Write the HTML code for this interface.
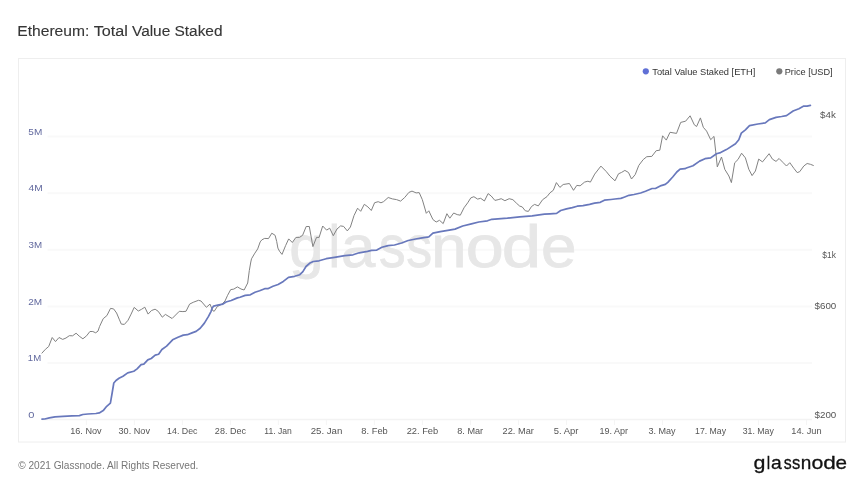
<!DOCTYPE html><html><head><meta charset="utf-8"><title>Ethereum: Total Value Staked</title><style>html,body{margin:0;padding:0;background:#fff;width:864px;height:485px;overflow:hidden}svg{display:block;position:absolute;left:0;top:0;will-change:transform}text{font-family:"Liberation Sans", Arial, sans-serif}</style></head><body><svg width="864" height="485" viewBox="0 0 864 485"><text y="36" font-size="14" fill="#363636" stroke="#363636" stroke-width="0.12"><tspan x="17.31" textLength="72.01" lengthAdjust="spacingAndGlyphs">Ethereum:</tspan> <tspan x="93.71" textLength="34.14" lengthAdjust="spacingAndGlyphs">Total</tspan> <tspan x="132.0" textLength="38.27" lengthAdjust="spacingAndGlyphs">Value</tspan> <tspan x="174.47" textLength="48.05" lengthAdjust="spacingAndGlyphs">Staked</tspan></text><rect x="18.5" y="58.5" width="827" height="383.5" fill="#fff" stroke="#eeeeee" stroke-width="1"/><line x1="47.5" y1="136.6" x2="812" y2="136.6" stroke="#f9f9f9" stroke-width="2"/><line x1="47.5" y1="193.2" x2="812" y2="193.2" stroke="#f9f9f9" stroke-width="2"/><line x1="47.5" y1="249.8" x2="812" y2="249.8" stroke="#f9f9f9" stroke-width="2"/><line x1="47.5" y1="306.6" x2="812" y2="306.6" stroke="#f9f9f9" stroke-width="2"/><line x1="47.5" y1="363.0" x2="812" y2="363.0" stroke="#f9f9f9" stroke-width="2"/><line x1="42" y1="419.6" x2="812" y2="419.6" stroke="#f3f3f3" stroke-width="1.5"/><line x1="86.4" y1="420" x2="86.4" y2="425" stroke="#f5f5f5" stroke-width="1"/><line x1="134.4" y1="420" x2="134.4" y2="425" stroke="#f5f5f5" stroke-width="1"/><line x1="182.4" y1="420" x2="182.4" y2="425" stroke="#f5f5f5" stroke-width="1"/><line x1="230.4" y1="420" x2="230.4" y2="425" stroke="#f5f5f5" stroke-width="1"/><line x1="278.4" y1="420" x2="278.4" y2="425" stroke="#f5f5f5" stroke-width="1"/><line x1="326.4" y1="420" x2="326.4" y2="425" stroke="#f5f5f5" stroke-width="1"/><line x1="374.4" y1="420" x2="374.4" y2="425" stroke="#f5f5f5" stroke-width="1"/><line x1="422.4" y1="420" x2="422.4" y2="425" stroke="#f5f5f5" stroke-width="1"/><line x1="470.5" y1="420" x2="470.5" y2="425" stroke="#f5f5f5" stroke-width="1"/><line x1="518.5" y1="420" x2="518.5" y2="425" stroke="#f5f5f5" stroke-width="1"/><line x1="566.5" y1="420" x2="566.5" y2="425" stroke="#f5f5f5" stroke-width="1"/><line x1="614.5" y1="420" x2="614.5" y2="425" stroke="#f5f5f5" stroke-width="1"/><line x1="662.5" y1="420" x2="662.5" y2="425" stroke="#f5f5f5" stroke-width="1"/><line x1="710.5" y1="420" x2="710.5" y2="425" stroke="#f5f5f5" stroke-width="1"/><line x1="758.5" y1="420" x2="758.5" y2="425" stroke="#f5f5f5" stroke-width="1"/><line x1="806.5" y1="420" x2="806.5" y2="425" stroke="#f5f5f5" stroke-width="1"/><text y="266.8" font-size="60" fill="#e7e7e7" stroke="#e7e7e7" stroke-width="0.8"><tspan x="289.23" textLength="34.36" lengthAdjust="spacingAndGlyphs">g</tspan><tspan x="328.5" textLength="11.68" lengthAdjust="spacingAndGlyphs">l</tspan><tspan x="341.03" textLength="34.29" lengthAdjust="spacingAndGlyphs">a</tspan><tspan x="379.05" textLength="26.54" lengthAdjust="spacingAndGlyphs">s</tspan><tspan x="406.29" textLength="25.85" lengthAdjust="spacingAndGlyphs">s</tspan><tspan x="431.36" textLength="35.33" lengthAdjust="spacingAndGlyphs">n</tspan><tspan x="465.75" textLength="38.04" lengthAdjust="spacingAndGlyphs">o</tspan><tspan x="501.75" textLength="39.43" lengthAdjust="spacingAndGlyphs">d</tspan><tspan x="540.94" textLength="35.56" lengthAdjust="spacingAndGlyphs">e</tspan></text><path d="M41.7 353.4 L45.4 349.3 L48.7 346.5 L52.2 337.5 L55.5 341.6 L59 337.5 L62.7 339.4 L66 338 L69.3 335.7 L72.6 335.8 L76.1 333.2 L79.2 336.1 L82.9 338.8 L86.6 335.8 L89.9 331.5 L92.8 331.5 L95.7 332.8 L98 331.1 L99.6 326.4 L103.2 318.7 L106.9 315.6 L110.5 308.4 L113.6 308.9 L116.6 313 L119.2 319.2 L121.3 324.1 L124.4 324.4 L128 320.3 L131.1 314.1 L134.2 307.4 L138.3 311 L141.4 309.4 L144.8 307.2 L148.1 314.1 L151.5 310.5 L155.1 309.2 L158.2 311.3 L162.3 317.2 L165.4 314.4 L172.1 318.5 L179.3 311.3 L182.9 311.6 L186 311.3 L189.6 304.1 L193.2 302.3 L198.5 300.3 L201 301 L206.4 307.3 L210 304.1 L212.6 310.5 L214.2 311.3 L217.3 306.6 L221.9 304.1 L225 301 L227.6 295.3 L230.7 289.6 L233.8 289.1 L237.4 286.9 L241 289 L244.1 290 L247.7 283 L249.3 270.6 L250.8 262 L251.5 258.8 L254.4 253.9 L257.7 248.9 L260.2 241.9 L261.9 239.8 L264.7 238.4 L268.5 238.6 L271.8 233.2 L275.1 235.3 L276.7 241.5 L277.9 248.1 L279.6 251.4 L282 254.4 L285.6 245.6 L288.7 238.9 L292.3 242.5 L295.9 237.4 L299.5 237.4 L302.6 235.3 L306.2 226.5 L309.3 226.5 L312.9 246.6 L316.5 237.4 L319.1 237.4 L322.7 226 L326.6 230.1 L329.7 228.2 L333.3 235.7 L337 229 L340.6 225.9 L343.6 226.4 L347.3 230.9 L350.4 227 L354 215.6 L357.6 208.2 L360.7 211.3 L364.3 204.3 L367.9 206.9 L371.3 210.5 L374.6 202.7 L378.2 201.7 L381 202.8 L383.6 201.6 L388.2 197.5 L392.4 198.9 L396.5 199.6 L400.6 201.1 L404.7 197.5 L408.9 192.4 L412 191.1 L416.1 192.9 L419.2 192.6 L422.3 199.6 L426.3 213.3 L428.8 210.8 L432.9 219.5 L436.2 222 L439.5 220.3 L443.2 223.6 L446.9 213.7 L449.8 218.2 L453.7 213 L457.2 214.6 L460.3 215.2 L464 207.8 L467.7 202.8 L470.8 197.9 L473.9 196.7 L477.6 199.1 L480.7 198.3 L484.4 201 L488.1 193.6 L491.2 196 L494.9 200.4 L498.1 199.7 L501.2 198.7 L504.9 200.7 L509.2 198.7 L512.9 199.7 L516.7 203.4 L519.7 206.1 L522.2 206.9 L525.3 210.8 L528.4 211.4 L531.5 206.5 L534.6 204.4 L538.3 205.9 L542.6 199.7 L547 196.6 L550 192.8 L553.3 190.3 L556.4 182.6 L559.9 187.4 L563.2 184.5 L569.4 183.5 L573.5 190.3 L576.8 185.4 L580.1 185.8 L584.6 182.1 L587.9 181.2 L590.4 182.1 L594.7 174.1 L600.9 166.1 L606.4 171.7 L610 176.2 L615 180.8 L618.5 173.8 L621.6 172.4 L624.9 170.4 L628.5 172.5 L631.5 179 L635.2 174.6 L638.8 165.4 L643.2 159.6 L646.8 156.7 L651.8 156.4 L656.2 150.7 L659.8 150.2 L662.6 135.8 L666.3 140.1 L670 132.3 L676.5 133.4 L680.7 122.4 L685.6 121.2 L690.1 115.8 L694.3 124.8 L696.6 126.5 L700.4 117.9 L703.3 127.3 L706.6 131.1 L710.7 139.7 L714 136.4 L715.7 151.3 L717.3 166.9 L721.5 157 L724.8 169.4 L728.9 176 L731.4 182.6 L734.7 162.8 L738 159.5 L741.6 153.2 L745.4 157.9 L748.8 169.3 L752.1 175.6 L755.4 171 L758.7 159.1 L762.5 161.9 L769.1 153.7 L772.4 159.1 L776 161.4 L779.1 158.5 L783.2 162.7 L786.5 166 L789.8 162.7 L793.9 168.4 L797.2 172.6 L799.7 171.7 L803.8 166 L807.1 163.5 L810.4 164.3 L813.7 165.6" fill="none" stroke="#828282" stroke-width="1" stroke-linejoin="round"/><path d="M42 419.2 L44.8 419 L49.3 417.9 L55 416.8 L63 416.3 L72 415.8 L79.4 415.6 L82.8 414.5 L87.9 414 L95.9 413.5 L99.3 412.9 L103.2 410.6 L106.7 406.3 L110.4 403.1 L111.8 395 L113.8 383 L116 380.5 L119 378.3 L123 376.3 L127.7 372.9 L133.8 371.2 L137.1 368.9 L141.1 364.6 L143.8 364.2 L147.8 359.9 L151.2 358.5 L155.2 355.1 L158.6 354.2 L161.9 349.5 L166.6 346.1 L172.6 339.8 L178 337.2 L183.3 335.1 L187.4 334.7 L192 332.9 L196.1 331.4 L200.2 328.3 L204.4 323.1 L208.5 316.4 L211.1 311.3 L212.1 308.2 L213.6 306.1 L217.8 305.1 L222.9 304.1 L226 302 L231.2 300.5 L237.4 297.9 L240 297.2 L245.2 295.4 L250.3 294.8 L255 292.3 L259.6 290.7 L264.7 288.7 L267.8 288.7 L273 286.3 L278.1 284.5 L283.3 281.4 L288.5 277.3 L294.6 276.3 L299.8 274.7 L302.9 271.6 L306 266.5 L310.1 262.9 L313.2 261.5 L319 260.8 L326.2 258.7 L334.5 257.3 L344.8 255.6 L353 254.8 L359.2 252.8 L367.5 251.4 L371.6 250.4 L376.8 250.1 L381.9 247.3 L388.1 245.6 L394.5 245 L401.6 243 L408.2 240.5 L415.6 239 L422.2 237.8 L428.8 236.8 L432.9 233.2 L440.3 231.6 L447.8 230.4 L455 229.1 L462.7 226 L471.4 223.9 L478.8 222 L487.5 220.8 L491.8 219.3 L498 218.9 L507.4 218.2 L519.7 216.8 L532.1 215.8 L544.5 214.2 L550 213.8 L556.6 213.4 L560.7 210.5 L566.5 208.9 L572.3 207.6 L577.2 206.2 L583 205.6 L589.6 204.3 L594.5 203.1 L600.3 202.3 L604.4 200.2 L611 199.5 L615 199 L620.8 198.4 L624.1 197.2 L629 195.3 L634 194.5 L640.6 193 L645.5 191.2 L652.1 188.5 L655.4 188.5 L661.2 185.6 L665.3 184.4 L667.8 182.3 L672.7 177 L676.8 172 L680.1 169.1 L685 168.7 L686.4 168 L693 165.7 L699.6 161.1 L705 158.7 L710.7 157.9 L716.5 153.7 L720.6 152.6 L726.4 149.6 L735.5 143.8 L738.8 139.7 L741.3 133.1 L745.4 129.8 L749.5 125.7 L757.9 124 L765.3 122.9 L769.4 119.6 L776 117.4 L781.6 116.5 L786.5 115.6 L793.1 111 L798.9 108.7 L803.8 106.1 L807.1 106.1 L810.4 105.4" fill="none" stroke="#6878bc" stroke-width="1.7" stroke-linejoin="round" stroke-linecap="round"/><text x="28.33" y="135.0" font-size="8.8" fill="#636a9f" textLength="13.91" lengthAdjust="spacingAndGlyphs">5M</text><text x="28.51" y="191.4" font-size="8.8" fill="#636a9f" textLength="14.15" lengthAdjust="spacingAndGlyphs">4M</text><text x="28.52" y="248.1" font-size="8.8" fill="#636a9f" textLength="13.59" lengthAdjust="spacingAndGlyphs">3M</text><text x="28.23" y="305.0" font-size="8.8" fill="#636a9f" textLength="13.91" lengthAdjust="spacingAndGlyphs">2M</text><text x="27.88" y="361.2" font-size="8.8" fill="#636a9f" textLength="13.31" lengthAdjust="spacingAndGlyphs">1M</text><text x="28.28" y="418.0" font-size="8.8" fill="#636a9f" textLength="6.18" lengthAdjust="spacingAndGlyphs">0</text><text x="820.13" y="118.2" font-size="9" fill="#555" textLength="15.78" lengthAdjust="spacingAndGlyphs">$4k</text><text x="822.37" y="257.6" font-size="9" fill="#555" textLength="13.54" lengthAdjust="spacingAndGlyphs">$1k</text><text x="814.53" y="308.6" font-size="9" fill="#555" textLength="21.76" lengthAdjust="spacingAndGlyphs">$600</text><text x="814.53" y="417.9" font-size="9" fill="#555" textLength="21.76" lengthAdjust="spacingAndGlyphs">$200</text><text x="70.22" y="433.8" font-size="8.8" fill="#555" textLength="31.44" lengthAdjust="spacingAndGlyphs">16. Nov</text><text x="118.54" y="433.8" font-size="8.8" fill="#555" textLength="31.42" lengthAdjust="spacingAndGlyphs">30. Nov</text><text x="167.14" y="433.8" font-size="8.8" fill="#555" textLength="30.36" lengthAdjust="spacingAndGlyphs">14. Dec</text><text x="214.89" y="433.8" font-size="8.8" fill="#555" textLength="31.03" lengthAdjust="spacingAndGlyphs">28. Dec</text><text x="264.37" y="433.8" font-size="8.8" fill="#555" textLength="27.48" lengthAdjust="spacingAndGlyphs">11. Jan</text><text x="310.7" y="433.8" font-size="8.8" fill="#555" textLength="31.68" lengthAdjust="spacingAndGlyphs">25. Jan</text><text x="361.37" y="433.8" font-size="8.8" fill="#555" textLength="26.46" lengthAdjust="spacingAndGlyphs">8. Feb</text><text x="406.67" y="433.8" font-size="8.8" fill="#555" textLength="31.58" lengthAdjust="spacingAndGlyphs">22. Feb</text><text x="457.28" y="433.8" font-size="8.8" fill="#555" textLength="25.87" lengthAdjust="spacingAndGlyphs">8. Mar</text><text x="502.57" y="433.8" font-size="8.8" fill="#555" textLength="31.35" lengthAdjust="spacingAndGlyphs">22. Mar</text><text x="553.66" y="433.8" font-size="8.8" fill="#555" textLength="24.66" lengthAdjust="spacingAndGlyphs">5. Apr</text><text x="599.43" y="433.8" font-size="8.8" fill="#555" textLength="28.61" lengthAdjust="spacingAndGlyphs">19. Apr</text><text x="648.44" y="433.8" font-size="8.8" fill="#555" textLength="27.17" lengthAdjust="spacingAndGlyphs">3. May</text><text x="695.05" y="433.8" font-size="8.8" fill="#555" textLength="30.97" lengthAdjust="spacingAndGlyphs">17. May</text><text x="742.65" y="433.8" font-size="8.8" fill="#555" textLength="31.18" lengthAdjust="spacingAndGlyphs">31. May</text><text x="791.31" y="433.8" font-size="8.8" fill="#555" textLength="30.23" lengthAdjust="spacingAndGlyphs">14. Jun</text><circle cx="645.8" cy="71.3" r="3.1" fill="#6070d6"/><text x="652.24" y="74.6" font-size="9" fill="#333" textLength="103.06" lengthAdjust="spacingAndGlyphs">Total Value Staked [ETH]</text><circle cx="779.3" cy="71.3" r="3.1" fill="#7a7a7a"/><text x="784.74" y="74.6" font-size="9" fill="#333" textLength="47.94" lengthAdjust="spacingAndGlyphs">Price [USD]</text><text x="18.25" y="469" font-size="10" fill="#777" textLength="180.1" lengthAdjust="spacingAndGlyphs">© 2021 Glassnode. All Rights Reserved.</text><text y="469.45" font-size="19" fill="#111" stroke="#111" stroke-width="0.3"><tspan x="753.6" textLength="11.93" lengthAdjust="spacingAndGlyphs">g</tspan><tspan x="766.85" textLength="3.38" lengthAdjust="spacingAndGlyphs">l</tspan><tspan x="771.09" textLength="10.73" lengthAdjust="spacingAndGlyphs">a</tspan><tspan x="783.63" textLength="7.95" lengthAdjust="spacingAndGlyphs">s</tspan><tspan x="791.91" textLength="8.29" lengthAdjust="spacingAndGlyphs">s</tspan><tspan x="800.7" textLength="10.57" lengthAdjust="spacingAndGlyphs">n</tspan><tspan x="811.41" textLength="11.86" lengthAdjust="spacingAndGlyphs">o</tspan><tspan x="823.16" textLength="12.56" lengthAdjust="spacingAndGlyphs">d</tspan><tspan x="835.53" textLength="11.51" lengthAdjust="spacingAndGlyphs">e</tspan></text></svg></body></html>
